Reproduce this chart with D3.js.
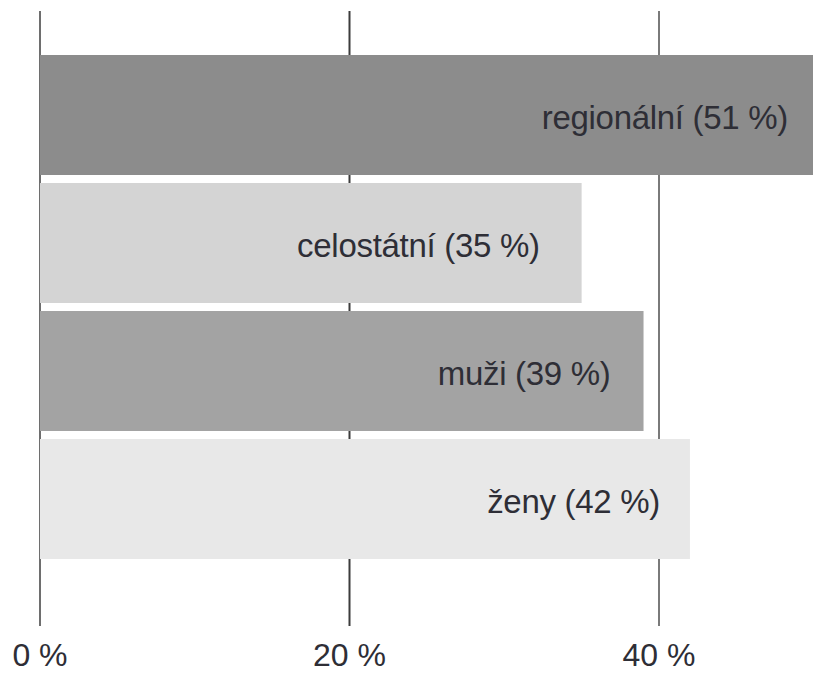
<!DOCTYPE html>
<html><head><meta charset="utf-8">
<script src="https://cdn.jsdelivr.net/npm/d3@7"></script>
<style>
html,body{margin:0;padding:0;background:#fff;overflow:hidden;}
text{font-family:"Liberation Sans",Arial,Helvetica,sans-serif;}
</style></head>
<body><svg id="chart" width="813" height="674"></svg>
<script>
const categories = ["regionální", "celostátní", "muži", "ženy"];
const values = [51, 35, 39, 42];
const barColors = ["#8c8c8c", "#d4d4d4", "#a3a3a3", "#e8e8e8"];
const tickValues = [0, 20, 40];
const tickLabels = ["0 %", "20 %", "40 %"];
const labelInsets = [25, 42, 33, 30];

const W = 813, H = 674;
const svg = d3.select("#chart");
const x = d3.scaleLinear().domain([0, 40]).range([40, 659]);
const y = d3.scaleBand().domain(categories).range([51, 563]).paddingInner(0.0625).paddingOuter(0.03125);

// gridlines
const gridColors = ["#6e6e6e", "#3c3c3c", "#7a7a7a"];
svg.append("g").selectAll("line").data(tickValues).join("line")
  .attr("x1", d => x(d)).attr("x2", d => x(d))
  .attr("y1", 11).attr("y2", 626)
  .attr("stroke", (d, i) => gridColors[i]).attr("stroke-width", 2);

const data = categories.map((c, i) => ({c, v: values[i], col: barColors[i], inset: labelInsets[i]}));

svg.append("g").selectAll("rect").data(data).join("rect")
  .attr("x", x(0)).attr("y", d => y(d.c))
  .attr("width", d => Math.min(x(d.v), W) - x(0))
  .attr("height", y.bandwidth())
  .attr("fill", d => d.col);

svg.append("g").selectAll("text").data(data).join("text")
  .attr("x", d => Math.min(x(d.v), W) - d.inset)
  .attr("y", d => y(d.c) + y.bandwidth() / 2 + 14)
  .attr("text-anchor", "end")
  .attr("font-size", 33)
  .attr("letter-spacing", "-0.3")
  .attr("fill", "#2e2e36")
  .text(d => `${d.c} (${d.v} %)`);

svg.append("g").selectAll("text").data(tickValues).join("text")
  .attr("x", d => x(d)).attr("y", 666)
  .attr("text-anchor", "middle")
  .attr("font-size", 32)
  .attr("fill", "#2e2e36")
  .text((d, i) => tickLabels[i]);
</script></body></html>
